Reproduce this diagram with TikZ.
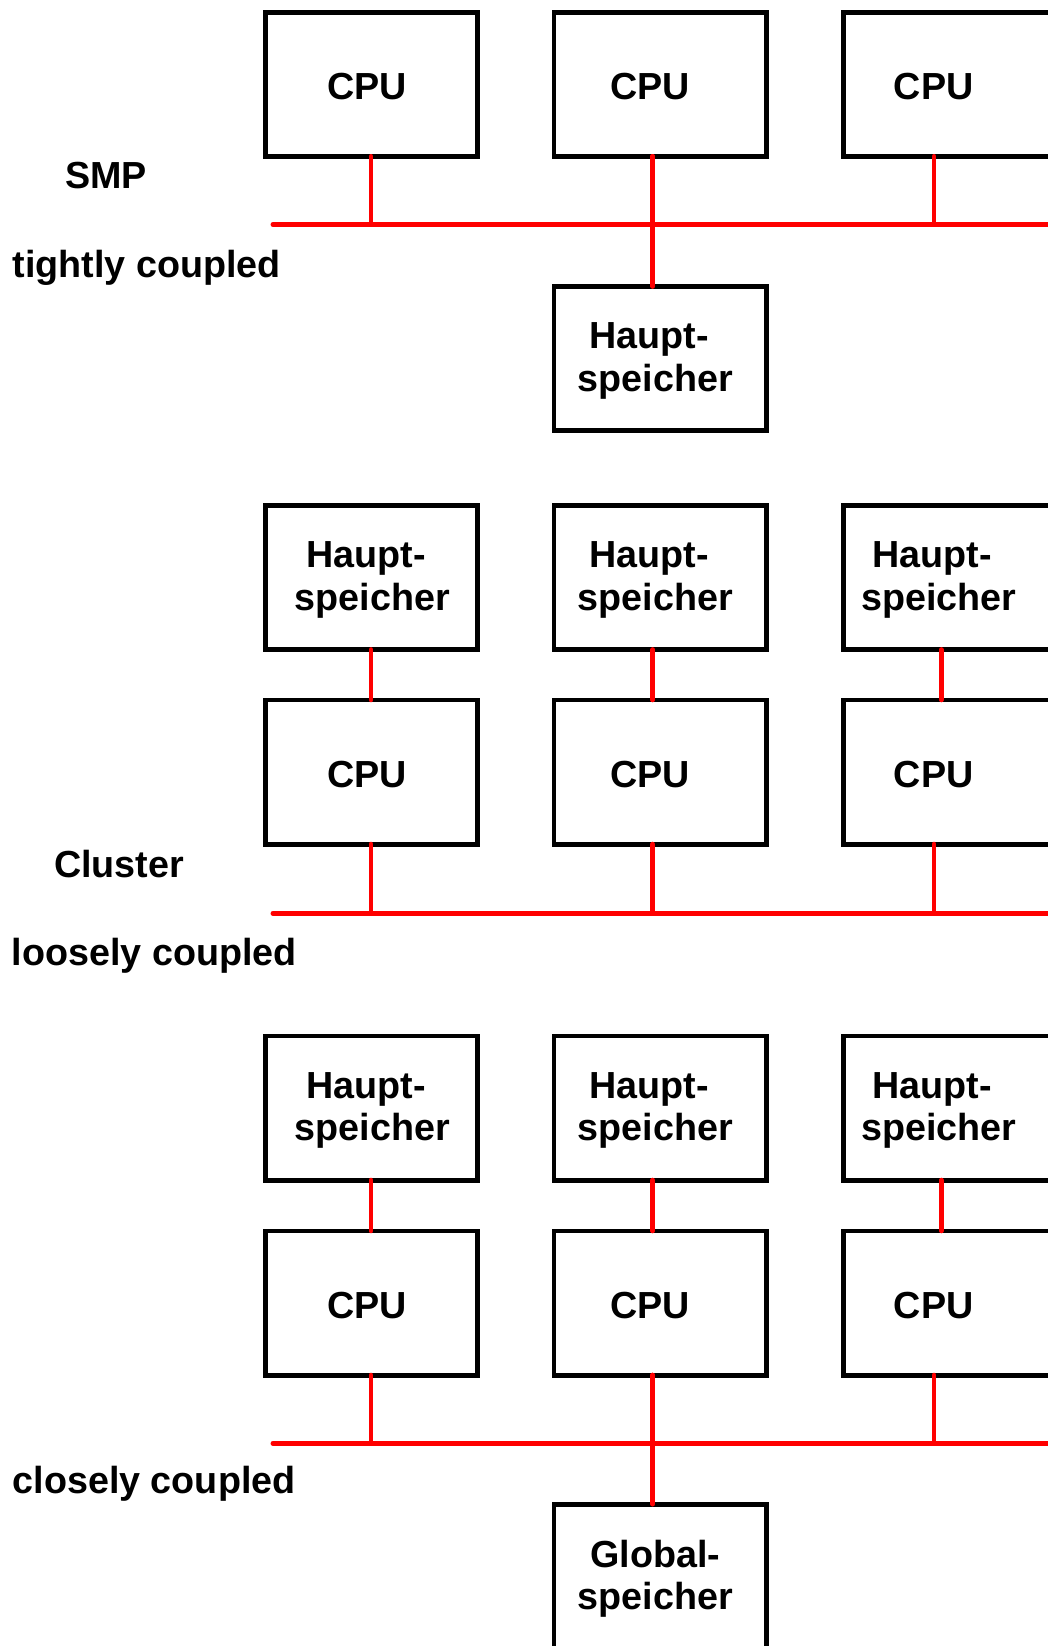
\documentclass[tikz,border=0pt]{standalone}
\usepackage{fontspec}
\setmainfont{Liberation Sans}
\usepackage{tikz}
\usetikzlibrary{calc}
\usepackage{xcolor}
\definecolor{busRed}{rgb}{1,0,0}

\begin{document}
\begin{tikzpicture}[x=1pt, y=-1pt,
        box/.style={draw, line width=4.8pt, minimum width=212.2pt, minimum height=144.2pt, inner sep=0pt, outer sep=0pt},
        txt/.style={font=\fontsize{37.7}{42.7}\selectfont\bfseries, align=center, inner sep=0pt, yshift=-2.5pt},
        lbl/.style={font=\fontsize{37.7}{42.7}\selectfont\bfseries, inner sep=0pt, anchor=base west},
        bus/.style={draw=busRed, line width=5pt, line cap=round},
        link/.style={draw=busRed, line width=4.8pt, line cap=round}]
        \fill [white] (0,0) rectangle (1048,1646);
        \clip (0,0) rectangle (1048,1646);
        % buses
        \foreach \b/\y in {A/224.5, B/913.3, C/1443.3} {
            \coordinate (bus\b) at (273,\y);
            \coordinate (bus\b e) at (1070,\y);
            \draw [bus] (bus\b) -- (bus\b e);
        };
        % labels on the left
        \node [lbl] (smp) at (65,188) {SMP};
        \node [lbl] (tight) at (12.5,277) {tightly coupled};
        \node [lbl] (cluster) at (54,877) {Cluster};
        \node [lbl] (loose) at (11.5,965) {loosely coupled};
        \node [lbl] (close) at (12.5,1493) {closely coupled};
        % SMP: CPUs on one bus
        \foreach \i/\x/\s/\l in {1/371.5/1/-0.5, 2/660/-4.5/-7.3, 3/949.5/-10.5/-15.5} {
            \node [box] (cpuA\i) at (\x,84.3) {};
            \node [txt] (cpuAt\i) at ([xshift=\s pt]cpuA\i.center) {CPU\hspace*{.28em}};
            \draw [link] ([xshift=\l pt]cpuA\i.south) -- ([xshift=\l pt]cpuA\i.south |- busA);
        };
        \node [box] (memA) at (660,358.5) {};
        \node [txt] (memAt) at ([xshift=-4.5pt]memA.center) {Haupt-\hspace*{.35em}\\speicher};
        \draw [link] ([xshift=-7.3pt]cpuA2.south) -- ([xshift=-7.3pt]memA.north);
        % Cluster and closely coupled: one memory per CPU
        \foreach \r/\ym/\yc in {B/577.5/772, C/1108/1303} {
            \foreach \i/\x/\s/\l/\m in {1/371.5/1/-0.5/-0.5, 2/660/-4.5/-7.3/-7.3, 3/949.5/-10.5/-15.5/-8.2} {
                \node [box] (mem\r\i) at (\x,\ym) {};
                \node [txt] (mem\r t\i) at ([xshift=\s pt]mem\r\i.center) {Haupt-\hspace*{.35em}\\speicher};
                \node [box] (cpu\r\i) at (\x,\yc) {};
                \node [txt] (cpu\r t\i) at ([xshift=\s pt]cpu\r\i.center) {CPU\hspace*{.28em}};
                \draw [link] ([xshift=\m pt]mem\r\i.south) -- ([xshift=\m pt]cpu\r\i.north);
                \draw [link] ([xshift=\l pt]cpu\r\i.south) -- ([xshift=\l pt]cpu\r\i.south |- bus\r);
            };
        };
        \node [box] (glob) at (660,1576.2) {};
        \node [txt] (globt) at ([xshift=-4.5pt]glob.center) {Global-\\speicher};
        \draw [link] ([xshift=-7.3pt]cpuC2.south) -- ([xshift=-7.3pt]glob.north);
\end{tikzpicture}
\end{document}
